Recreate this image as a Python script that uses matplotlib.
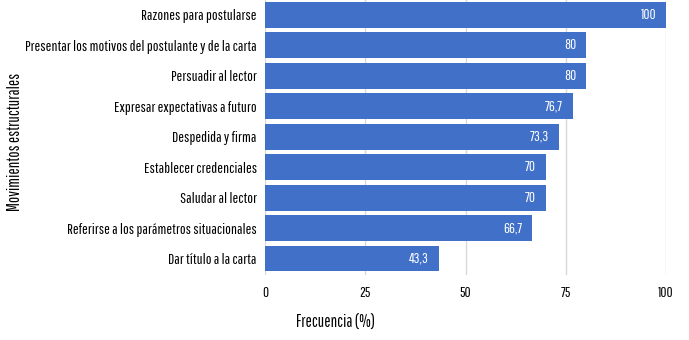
import matplotlib
matplotlib.use("Agg")
import matplotlib.pyplot as plt

movimientos = [
    "Razones para postularse",
    "Presentar los motivos del postulante y de la carta",
    "Persuadir al lector",
    "Expresar expectativas a futuro",
    "Despedida y firma",
    "Establecer credenciales",
    "Saludar al lector",
    "Referirse a los parámetros situacionales",
    "Dar título a la carta",
]
frecuencia = [100, 80, 80, 76.7, 73.3, 70, 70, 66.7, 43.3]
etiquetas = ["100", "80", "80", "76,7", "73,3", "70", "70", "66,7", "43,3"]

plt.rcParams['font.family'] = ['Pathway Gothic One', 'DejaVu Sans']

fig = plt.figure(figsize=(6.89, 3.40), dpi=100)
ax = fig.add_axes([265/689, 1 - 275/340, (666 - 265)/689, 275/340])

pos = list(range(len(movimientos)))
ax.barh(pos, frecuencia, height=0.85, color="#4070C8", zorder=3)
for p, v, t in zip(pos, frecuencia, etiquetas):
    ax.annotate(t, (v, p), xytext=(-7, 0), textcoords="offset points",
                ha="right", va="center", color="white", fontsize=10.5)

ax.set_ylim(8.54, -0.49)
ax.set_xlim(0, 100)
ax.set_yticks(pos)
ax.set_yticklabels(movimientos, fontsize=11)
ax.set_xticks([0, 25, 50, 75, 100])
ax.tick_params(axis="both", length=0)
ax.tick_params(axis="x", pad=8, labelsize=10.5)
ax.tick_params(axis="y", pad=6)
ax.grid(axis="x", color="#d9d9d9", linewidth=1, zorder=0)
for s in ax.spines.values():
    s.set_visible(False)

fig.text(336/689, 1 - 323/340, "Frecuencia (%)", ha="center", va="center", fontsize=12)
fig.text(15/689, 1 - 142/340, "Movimientos estructurales", rotation=90,
         ha="center", va="center", fontsize=12)

fig.savefig("out.png", dpi=100)
